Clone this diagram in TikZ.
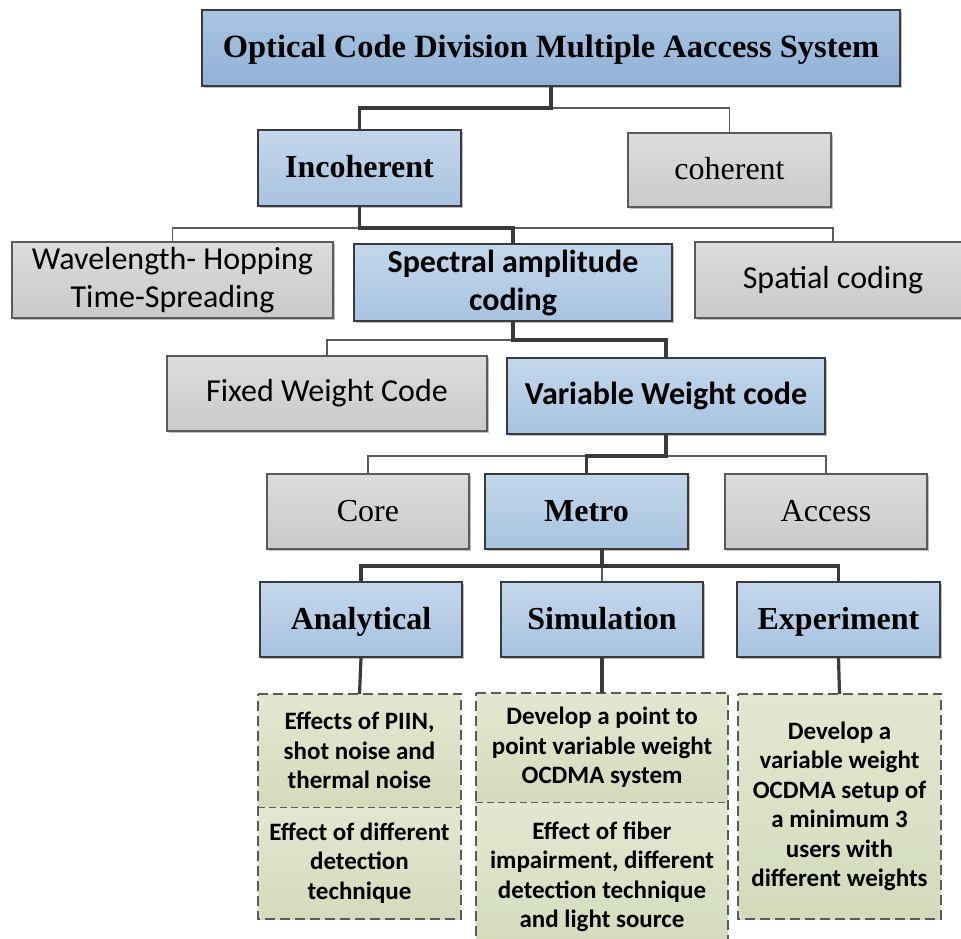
\documentclass[tikz,border=0pt]{standalone}
\usepackage{fontspec}
\setmainfont{Liberation Serif}
\newfontfamily\calfont{Carlito}
\usetikzlibrary{shadows,calc}

\definecolor{blueT}{HTML}{C3D7EB}
\definecolor{blueB}{HTML}{A8C3E0}
\definecolor{titleT}{HTML}{A9C5E2}
\definecolor{titleB}{HTML}{90B1D6}
\definecolor{grayT}{HTML}{DCDCDC}
\definecolor{grayB}{HTML}{CACACA}
\definecolor{greenT}{HTML}{E2E8D0}
\definecolor{greenB}{HTML}{D3DBBB}
\definecolor{edge}{HTML}{3A3A3A}
\definecolor{softedge}{HTML}{5A5A5A}

\tikzset{
  sz/.style 2 args={minimum width=#1pt, minimum height=#2pt},
  basebox/.style={rectangle, inner sep=0pt, align=center,
    drop shadow={shadow xshift=2pt, shadow yshift=-2pt, fill=black, opacity=0.25}},
  oneline/.style={text height=22pt, text depth=3pt},
  titlebox/.style={basebox, oneline, top color=titleT, bottom color=titleB, draw=edge,
    line width=2pt, font=\bfseries\fontsize{32.5}{37}\selectfont},
  bluebox/.style={basebox, oneline, top color=blueT, bottom color=blueB, draw=edge,
    line width=1.8pt, font=\bfseries\fontsize{32}{37}\selectfont},
  bluecal/.style={basebox, top color=blueT, bottom color=blueB, draw=edge,
    line width=1.8pt, font=\calfont\bfseries\fontsize{32}{38}\selectfont},
  graybox/.style={basebox, oneline, top color=grayT, bottom color=grayB, draw=softedge,
    line width=1.2pt, font=\fontsize{32}{37}\selectfont},
  graycal/.style={basebox, top color=grayT, bottom color=grayB, draw=softedge,
    line width=1.2pt, font=\calfont\fontsize{32}{38}\selectfont},
  notebox/.style={rectangle, inner sep=0pt, align=center, top color=greenT,
    bottom color=greenB, font=\calfont\bfseries\fontsize{25}{29.5}\selectfont},
  noteedge/.style={draw=softedge, line width=1.8pt, dash pattern=on 10pt off 5pt},
  notesplit/.style={draw=softedge, line width=1.1pt, dash pattern=on 7pt off 4pt},
  mainline/.style={draw=edge, line width=3.2pt},
  sideline/.style={draw=softedge, line width=1.2pt},
}

\begin{document}
\begin{tikzpicture}[x=1pt, y=-1pt]
\useasboundingbox (0,0) rectangle (961,939);

% ---- boxes ----
\node[titlebox, sz={698}{76}] (top) at (551,48) {Optical Code Division Multiple Aaccess System};

\node[bluebox, sz={203}{76}] (inc) at (359.5,168) {Incoherent};
\node[graybox, sz={203}{74}] (coh) at (729.5,170) {coherent};

\node[graycal, sz={321}{76}] (wh)  at (172.5,280) {Wavelength- Hopping\\Time-Spreading};
\node[bluecal, sz={318}{77}] (sac) at (513,282.5) {Spectral amplitude\\coding};
\node[graycal, sz={276}{76}] (spa) at (833,280) {Spatial coding};

\node[graycal, sz={320}{75}] (fix) at (327,393.5) {Fixed Weight Code};
\node[bluecal, sz={318}{76}] (vwc) at (666,396) {Variable Weight code};

\node[graybox, sz={202}{75}] (core)   at (368,511.5) {Core};
\node[bluebox, sz={203}{75}] (metro)  at (586.5,511.5) {Metro};
\node[graybox, sz={202}{75}] (access) at (826,511.5) {Access};

\node[bluebox, sz={202}{75}] (ana) at (361,619.5) {Analytical};
\node[bluebox, sz={202}{75}] (sim) at (602,619.5) {Simulation};
\node[bluebox, sz={203}{75}] (exp) at (838.5,619.5) {Experiment};

% ---- dashed note boxes ----
\node[notebox, sz={203}{113}] (anaA) at (359.5,750.5) {Effects of PIIN,\\shot noise and\\thermal noise};
\node[notebox, sz={203}{112}] (anaB) at (359.5,863) {Effect of different\\detection\\technique};
\node[notebox, sz={252}{109}] (simA) at (602,747.5) {Develop a point to\\point variable weight\\OCDMA system};
\node[notebox, sz={252}{150}] (simB) at (602,877) {Effect of fiber\\impairment, different\\detection technique\\and light source};
\node[notebox, sz={203}{225}] (expA) at (839.5,806.5) {Develop a\\variable weight\\OCDMA setup of\\a minimum 3\\users with\\different weights};

% outer dashed frames and inner dividers
\draw[noteedge] (anaA.north west) -- (anaA.north east) -- (anaB.south east) -- (anaB.south west) -- cycle;
\draw[notesplit] (anaA.south west) -- (anaA.south east);
\draw[noteedge] (simA.north west) -- (simA.north east) -- (simB.south east) -- (simB.south west) -- cycle;
\draw[notesplit] (simA.south west) -- (simA.south east);
\draw[noteedge] (expA.north west) -- (expA.north east) -- (expA.south east) -- (expA.south west) -- cycle;

% ---- side branches ----
\draw[sideline] (top.south) ++(0,21) -| (coh.north);
\draw[sideline] (inc.south) ++(0,21) -| (wh.north);
\draw[sideline] (inc.south) ++(0,21) -| (spa.north);
\draw[sideline] (sac.south) ++(0,18) -| (fix.north);
\draw[sideline] (vwc.south) ++(0,21) -| (core.north);
\draw[sideline] (vwc.south) ++(0,21) -| (access.north);
\coordinate (split) at ($(metro.south -| sim.north)+(0,16)$);
\draw[sideline] (split) -- (sim.north);

% ---- main path ----
\draw[mainline] (top.south) -- ++(0,21) -| (inc.north);
\draw[mainline] (inc.south) -- ++(0,21) -| (sac.north);
\draw[mainline] (sac.south) -- ++(0,18) -| (vwc.north);
\draw[mainline] (vwc.south) -- ++(0,21) -| (metro.north);
\draw[mainline] (metro.south -| sim.north) -- (split);
\draw[mainline] (split) -| (ana.north);
\draw[mainline] (split) -| (exp.north);
\draw[mainline] (ana.south) -- (anaA.north);
\draw[mainline] (sim.south) -- (simA.north);
\draw[mainline] (exp.south) -- (expA.north);
\end{tikzpicture}
\end{document}
